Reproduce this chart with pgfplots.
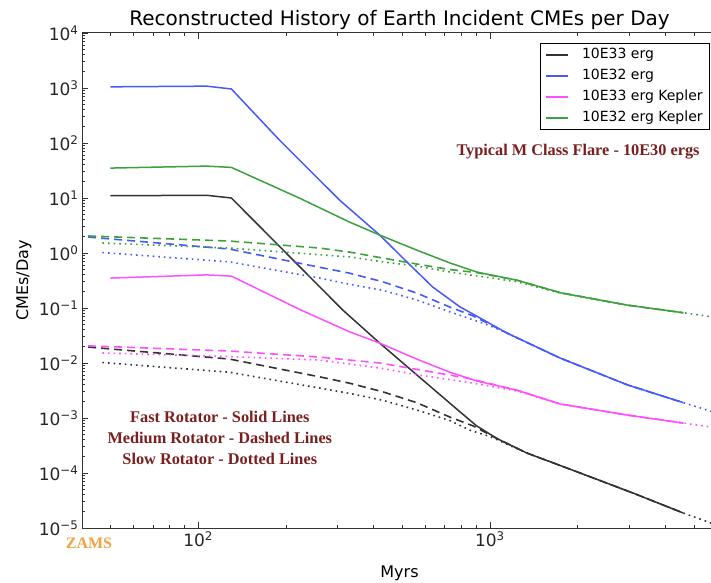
\documentclass[border=0pt]{standalone}
\usepackage{fontspec}
\setmainfont{DejaVu Sans}
\newfontfamily\annfont{Liberation Serif}
\usepackage{pgfplots}
\pgfplotsset{compat=1.18}

\definecolor{cblk}{HTML}{333333}
\definecolor{cblue}{RGB}{70,90,250}
\definecolor{cmag}{RGB}{255,80,255}
\definecolor{cgrn}{RGB}{60,160,60}
\definecolor{annred}{HTML}{7A1F1F}
\definecolor{zams}{HTML}{F5A040}

\pgfplotsset{
  fast/.style={line width=1.5pt},
  medium/.style={line width=1.6pt, dash pattern=on 8pt off 5pt},
  slow/.style={line width=1.6pt, dash pattern=on 1.6pt off 4pt},
}

\begin{document}
\begin{tikzpicture}
\useasboundingbox (-82pt,-54pt) rectangle (629pt,528pt);
\clip (-82pt,-54pt) rectangle (629pt,528pt);
\begin{axis}[
    at={(0,0)}, anchor=south west,
    width=635pt, height=495pt, scale only axis,
    xmode=log, ymode=log,
    xmin=40, xmax=6000, ymin=1e-5, ymax=1e4,
    clip=false,
    axis line style={black!80, line width=1pt},
    every tick/.style={black!80, line width=0.8pt},
    major tick length=6pt, minor tick length=3pt,
    xtick={100,1000}, xticklabels={10\textsuperscript{2},10\textsuperscript{3}},
    minor xtick={40,50,60,70,80,90,200,300,400,500,600,700,800,900,2000,3000,4000,5000,6000},
    ytick={1e-5,1e-4,1e-3,1e-2,1e-1,1,10,100,1000,10000},
    yticklabels={10\textsuperscript{−5},10\textsuperscript{−4},10\textsuperscript{−3},10\textsuperscript{−2},10\textsuperscript{−1},10\textsuperscript{0},10\textsuperscript{1},10\textsuperscript{2},10\textsuperscript{3},10\textsuperscript{4}},
    minor ytick={2e-5,3e-5,4e-5,5e-5,6e-5,7e-5,8e-5,9e-5,
                 2e-4,3e-4,4e-4,5e-4,6e-4,7e-4,8e-4,9e-4,
                 2e-3,3e-3,4e-3,5e-3,6e-3,7e-3,8e-3,9e-3,
                 0.02,0.03,0.04,0.05,0.06,0.07,0.08,0.09,
                 0.2,0.3,0.4,0.5,0.6,0.7,0.8,0.9,
                 2,3,4,5,6,7,8,9,
                 20,30,40,50,60,70,80,90,
                 200,300,400,500,600,700,800,900,
                 2000,3000,4000,5000,6000,7000,8000,9000},
    tick label style={font=\fontsize{17}{20}\selectfont, text=black!85},
    title={Reconstructed History of Earth Incident CMEs per Day},
    title style={font=\fontsize{20}{24}\selectfont, at={(axis description cs:0.5,1)}, anchor=base, yshift=1.7pt},
    xlabel={Myrs},
    xlabel style={font=\fontsize{16}{19}\selectfont, at={(axis description cs:0.5,-0.099)}, anchor=base},
    ylabel={CMEs/Day},
    ylabel style={font=\fontsize{16}{19}\selectfont, at={(axis description cs:-0.085,0.5)}, anchor=base},
    legend style={at={(0.989,0.979)}, anchor=north east, draw=black, line width=0.8pt,
        font=\fontsize{14}{17}\selectfont, cells={anchor=west},
        nodes={inner sep=2pt, text height=10pt, text depth=3pt},
        /tikz/every odd column/.append style={column sep=11pt},
        row sep=4pt, inner xsep=5pt, inner ysep=3pt},
    legend image code/.code={\draw[#1, line width=1.6pt] (0pt,0pt) -- (22pt,0pt);},
]
% fast rotator (solid)
\addplot[cblk, fast] coordinates {(50,11) (107,11.2) (130,10) (313,0.092) (419,0.023) (600,0.0045) (789,0.0013) (900,7.2e-4) (1060,4.2e-4) (1340,2.3e-4) (1990,1.05e-4) (3100,4.3e-5) (4600,1.87e-5)};
\addlegendentry{10E33 erg}
\addplot[cblue, fast] coordinates {(50,1050) (107,1080) (130,960) (190,113) (305,9.2) (419,2.12) (519,0.69) (637,0.24) (789,0.105) (924,0.066) (1144,0.035) (1740,0.0123) (2960,0.0040) (4600,0.0019)};
\addlegendentry{10E32 erg}
\addplot[cmag, fast] coordinates {(50,0.35) (107,0.40) (130,0.38) (222,0.095) (330,0.037) (419,0.023) (561,0.0118) (729,0.0068) (902,0.0047) (1238,0.0032) (1740,0.0018) (2960,0.00113) (4600,8.1e-4)};
\addlegendentry{10E33 erg Kepler}
\addplot[cgrn, fast] coordinates {(50,35) (107,38) (130,36) (222,10) (330,3.66) (419,2.12) (561,1.13) (729,0.66) (902,0.45) (1238,0.32) (1740,0.19) (2950,0.113) (4600,0.082)};
\addlegendentry{10E32 erg Kepler}
% medium rotator (dashed)
\addplot[cblk, medium, forget plot] coordinates {(42,0.0195) (128,0.0118) (261,0.0056) (330,0.0043) (429,0.0030) (561,0.0019) (729,0.00104) (875,7.2e-4) (1060,4.2e-4) (1340,2.3e-4) (1990,1.05e-4) (3100,4.3e-5) (4600,1.87e-5)};
\addplot[cblue, medium, forget plot] coordinates {(42,1.95) (128,1.18) (261,0.55) (330,0.43) (429,0.30) (561,0.187) (729,0.104) (875,0.072) (1144,0.035) (1740,0.0123) (2960,0.0040) (4600,0.0019)};
\addplot[cmag, medium, forget plot] coordinates {(42,0.0205) (128,0.0165) (261,0.0128) (419,0.0100) (575,0.0075) (854,0.0052) (1238,0.0032) (1740,0.0018) (2960,0.00113) (4600,8.1e-4)};
\addplot[cgrn, medium, forget plot] coordinates {(42,2.04) (128,1.65) (261,1.23) (330,1.04) (429,0.81) (561,0.63) (729,0.50) (902,0.44) (1238,0.32) (1740,0.19) (2950,0.113) (4600,0.082)};
% slow rotator (dotted)
\addplot[cblk, slow, forget plot] coordinates {(47,0.0102) (128,0.0068) (261,0.0035) (330,0.0028) (429,0.0021) (561,0.0014) (729,9e-4) (854,6e-4) (1000,4.6e-4) (1340,2.3e-4) (1990,1.05e-4) (3100,4.3e-5) (4600,1.87e-5) (5800,1.2e-5)};
\addplot[cblue, slow, forget plot] coordinates {(47,1.02) (128,0.69) (261,0.35) (330,0.27) (429,0.21) (561,0.14) (729,0.085) (946,0.053) (1083,0.040) (1740,0.0123) (2960,0.0040) (4600,0.0019) (5800,0.0013)};
\addplot[cmag, slow, forget plot] coordinates {(47,0.0152) (128,0.0131) (261,0.0113) (419,0.0081) (575,0.0060) (854,0.0044) (1238,0.0031) (1740,0.0018) (2960,0.00113) (4600,8.1e-4) (5800,6.8e-4)};
\addplot[cgrn, slow, forget plot] coordinates {(47,1.52) (128,1.23) (261,0.93) (330,0.85) (429,0.69) (561,0.58) (729,0.45) (946,0.37) (1238,0.30) (1740,0.187) (2950,0.113) (4600,0.082) (5800,0.069)};

\node[anchor=east, text=annred, font=\annfont\bfseries\fontsize{16.3}{19}\selectfont] at (axis description cs:0.978,0.76) {Typical M Class Flare - 10E30 ergs};
\node[text=annred, font=\annfont\bfseries\fontsize{16.3}{19}\selectfont] at (axis description cs:0.217,0.224) {Fast Rotator - Solid Lines};
\node[text=annred, font=\annfont\bfseries\fontsize{16.3}{19}\selectfont] at (axis description cs:0.217,0.182) {Medium Rotator - Dashed Lines};
\node[text=annred, font=\annfont\bfseries\fontsize{16.3}{19}\selectfont] at (axis description cs:0.217,0.139) {Slow Rotator - Dotted Lines};
\node[text=zams, font=\annfont\bfseries\fontsize{16}{19}\selectfont] at (axis description cs:0.011,-0.030) {ZAMS};
\end{axis}
\end{tikzpicture}
\end{document}
